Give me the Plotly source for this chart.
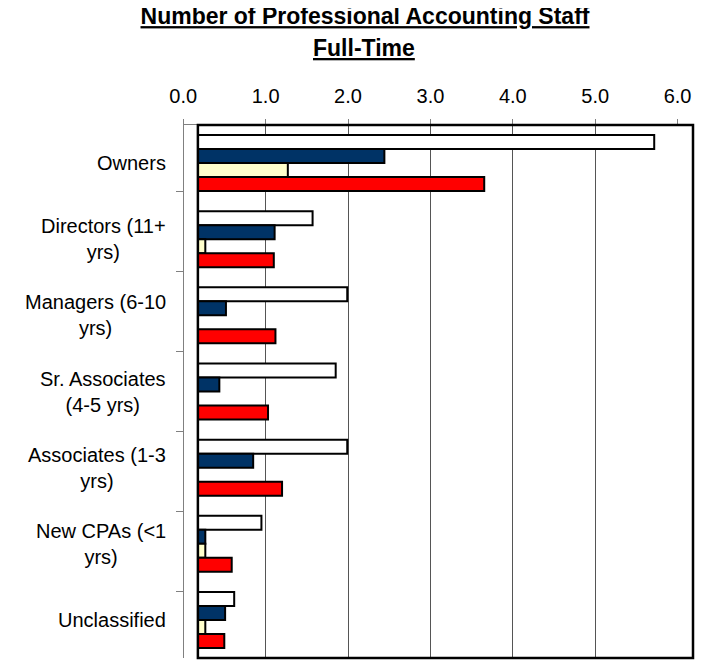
import plotly.graph_objects as go

# categories (top to bottom) and their wrapped labels
categories = ["Owners", "Directors (11+ yrs)", "Managers (6-10 yrs)", "Sr. Associates (4-5 yrs)",
              "Associates (1-3 yrs)", "New CPAs (<1 yrs)", "Unclassified"]
labels = ["Owners", "Directors (11+<br>yrs)", "Managers (6-10<br>yrs)", "Sr. Associates<br>(4-5 yrs)",
          "Associates (1-3<br>yrs)", "New CPAs (&lt;1<br>yrs)", "Unclassified"]

# four series per category
series_a = [5.53, 1.39, 1.81, 1.67, 1.81, 0.77, 0.44]
series_b = [2.26, 0.93, 0.34, 0.26, 0.67, 0.09, 0.33]
series_c = [1.09, 0.09, 0.0, 0.0, 0.0, 0.09, 0.09]
series_d = [3.47, 0.92, 0.94, 0.85, 1.02, 0.41, 0.32]

ticks = [0, 1, 2, 3, 4, 5, 6]
tick_text = ["0.0", "1.0", "2.0", "3.0", "4.0", "5.0", "6.0"]

FONT = "Liberation Sans, Arial, sans-serif"
OFF = 8  # page offset of the plot div
W, H = 709 - OFF, 660 - OFF
L, R, T, B = 183 - OFF, 12, 125 - OFF, 2
pw = W - L - R
ph = H - T - B
EPS = 0.003

fig = go.Figure()

# invisible trace so the grid / tick axes (x, y) get drawn
fig.add_trace(go.Scatter(x=series_a, y=categories, xaxis="x", yaxis="y", mode="none",
                         showlegend=False, hoverinfo="skip"))

for name, vals, col in [("Series 1", series_a, "#FFFFFF"),
                        ("Series 2", series_b, "#003366"),
                        ("Series 3", series_c, "#FFFFCC"),
                        ("Series 4", series_d, "#FF0000")]:
    fig.add_trace(go.Bar(y=categories, x=vals, orientation="h", name=name, xaxis="x2", yaxis="y2",
                         marker=dict(color=col, line=dict(color="black", width=2)),
                         showlegend=False, hoverinfo="x+y"))

# plot box (drawn on the bar axes)
fig.add_shape(type="rect", xref="x2 domain", yref="y2 domain", x0=0, x1=1, y0=0, y1=1,
              line=dict(color="black", width=2.5), layer="above")

for cat, lab in zip(categories, labels):
    fig.add_annotation(text=lab, xref="paper", yref="y2", x=-15 / pw, y=cat,
                       xanchor="right", yanchor="middle", align="center", showarrow=False,
                       font=dict(family=FONT, size=20, color="black"))

fig.add_annotation(text="<b><u>Full-Time</u></b>", xref="paper", yref="paper",
                   x=(365 - 183) / pw, y=(658 - 48) / ph, xanchor="center", yanchor="middle",
                   showarrow=False, font=dict(family=FONT, size=23, color="black"))

fig.update_layout(
    width=W, height=H,
    margin=dict(l=L, r=R, t=T, b=B),
    paper_bgcolor="white", plot_bgcolor="rgba(0,0,0,0)",
    barmode="group", bargap=0.265, bargroupgap=0,
    title=dict(text="<b><u>Number of Professional Accounting Staff</u></b>",
               x=(365 - OFF) / W, xref="container", xanchor="center",
               y=1, yref="container", yanchor="top", pad=dict(t=0),
               font=dict(family=FONT, size=23, color="black")),
    # grid / tick axis, offset 15 px left of the plot box
    xaxis=dict(range=[-EPS, 6 + EPS], domain=[0, (681.7 - 183) / pw], anchor="y", side="top",
               tickvals=ticks, ticktext=tick_text, showgrid=True, gridcolor="#555555", gridwidth=1,
               zeroline=False, showline=True, linecolor="#808080", linewidth=1,
               ticks="outside", ticklen=5, tickcolor="#808080", ticklabelstandoff=8,
               tickfont=dict(family=FONT, size=20, color="black"), fixedrange=True),
    yaxis=dict(type="category", autorange="reversed", anchor="free", position=0, domain=[0, 1],
               showline=True, linecolor="#808080", linewidth=1, ticks="outside", ticklen=7,
               tickcolor="#808080", tickson="boundaries", showticklabels=False, showgrid=False,
               fixedrange=True),
    # bar axes
    xaxis2=dict(range=[0, 6], domain=[15 / pw, 1], anchor="y2", showgrid=False,
                showticklabels=False, zeroline=False, showline=False, fixedrange=True),
    yaxis2=dict(type="category", autorange="reversed", anchor="x2", domain=[0, 1],
                showticklabels=False, showgrid=False, showline=False, ticks="", fixedrange=True),
)

fig.write_html("out.html")
